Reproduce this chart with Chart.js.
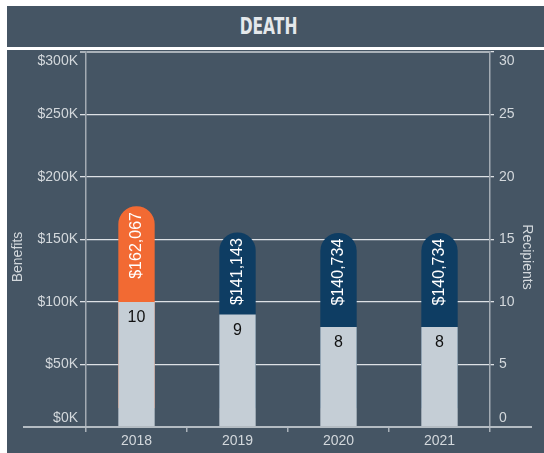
<!DOCTYPE html>
<html>
<head>
<meta charset="utf-8">
<script src="https://cdn.jsdelivr.net/npm/chart.js@4/dist/chart.umd.min.js"></script>
<style>
  body { margin: 0; background: #fff; width: 544px; height: 453px; position: relative; overflow: hidden; }
  #head {
    position: absolute; left: 7px; top: 6px; width: 537px; height: 41px;
    background: #455564; text-align: center; line-height: 41px;
  }
  #head span {
    display: inline-block; margin-right: 14px;
    font-family: "DejaVu Sans Condensed", "DejaVu Sans", sans-serif; font-weight: bold;
    font-size: 23px; color: #e4e8eb; transform: scaleX(0.75);
  }
  #panel { position: absolute; left: 7px; top: 50px; width: 537px; height: 403px; background: #455564; }
</style>
</head>
<body>
<div id="head"><span>DEATH</span></div>
<div id="panel"><canvas id="grafica"></canvas></div>
<script>
const years = ["2018", "2019", "2020", "2021"];
const benefits = [162067, 141143, 140734, 140734];
const recipients = [10, 9, 8, 8];
const benefitColors = ["#f26a33", "#0e3d63", "#0e3d63", "#0e3d63"];
const benefitTicks = [0, 50000, 100000, 150000, 200000, 250000, 300000];
const recipientTicks = [0, 5, 10, 15, 20, 25, 30];

const txt = "#d3d8dc";
const font = { family: "'Liberation Sans', Arial, sans-serif", size: 14, lineHeight: 1.3 };

// labels at the ends of an axis sit inside the plot, like the original
function edgeLabel(label, value, min, max) {
    if (value === max) return ["", label];
    if (value === min) return [label, ""];
    return label;
}

// the round cap sticks out half a bar width above the value
const capShift = {
    id: "capShift",
    beforeDatasetDraw(chart, args) {
        if (args.index !== 0) return;
        chart.ctx.save();
        chart.ctx.translate(0, -args.meta.data[0].width / 2);
    },
    afterDatasetDraw(chart, args) {
        if (args.index !== 0) return;
        chart.ctx.restore();
    }
};

const barLabels = {
    id: "barLabels",
    afterDatasetsDraw(chart) {
        const ctx = chart.ctx;
        const area = chart.chartArea;
        ctx.save();
        ctx.textAlign = "center";
        ctx.textBaseline = "middle";
        ctx.font = "16px 'Liberation Sans', Arial, sans-serif";
        chart.getDatasetMeta(0).data.forEach((bar, i) => {
            ctx.save();
            ctx.translate(bar.x, bar.y + 21);
            ctx.rotate(-Math.PI / 2);
            ctx.fillStyle = "#ffffff";
            ctx.fillText("$" + benefits[i].toLocaleString("en-US"), 0, 0);
            ctx.restore();
        });
        ctx.fillStyle = "#111111";
        chart.getDatasetMeta(1).data.forEach((bar, i) => {
            ctx.fillText(String(recipients[i]), bar.x, bar.y + 16);
        });
        // base line runs past both axes
        ctx.strokeStyle = "#b4bcc3";
        ctx.lineWidth = 2;
        ctx.beginPath();
        ctx.moveTo(area.left - 63, area.bottom);
        ctx.lineTo(area.right + 42, area.bottom);
        ctx.stroke();
        ctx.restore();
    }
};

let ctx = document.getElementById("grafica").getContext("2d");
new Chart(ctx, {
    type: "bar",
    data: {
        labels: years,
        datasets: [{
            label: "Benefits",
            data: benefits,
            yAxisID: "y",
            backgroundColor: benefitColors,
            borderRadius: { topLeft: 18, topRight: 18, bottomLeft: 0, bottomRight: 0 },
            borderSkipped: false,
            grouped: false,
            order: 1,
            barPercentage: 0.36,
            categoryPercentage: 1
        }, {
            label: "Recipients",
            data: recipients,
            yAxisID: "y1",
            backgroundColor: "#c5ced6",
            grouped: false,
            order: 0,
            barPercentage: 0.36,
            categoryPercentage: 1
        }]
    },
    options: {
        responsive: true,
        maintainAspectRatio: false,
        animation: false,
        layout: { padding: { top: 2, left: 0, right: 0, bottom: 0 } },
        plugins: { legend: { display: false }, tooltip: { enabled: false } },
        scales: {
            x: {
                offset: true,
                grid: { drawOnChartArea: false, offset: true, tickLength: 5, color: "#aab2b9", lineWidth: 1.5 },
                border: { display: false },
                ticks: { color: txt, font: font, padding: 0 },
                afterFit(s) { s.height = 26; }
            },
            y: {
                position: "left",
                min: 0,
                max: 300000,
                afterBuildTicks(s) { s.ticks = benefitTicks.map(v => ({ value: v })); },
                ticks: {
                    color: txt, font: font, padding: 2, autoSkip: false,
                    callback: v => edgeLabel("$" + v / 1000 + "K", v, 0, 300000)
                },
                grid: {
                    tickLength: 6,
                    color: c => c.tick && c.tick.value === 300000 ? "#aab2b9" : "#dde1e5",
                    lineWidth: c => c.tick && c.tick.value === 300000 ? 2 : 1.3
                },
                border: { color: "#a3abb3", width: 1.5 },
                // trailing spaces nudge the centred title a little lower, as in the original
                title: { display: true, text: "Benefits         ", color: txt, font: { family: font.family, size: 14 }, padding: { top: 3 } },
                afterFit(s) { s.width = 79; s.paddingTop = 0; s.paddingBottom = 0; }
            },
            y1: {
                position: "right",
                min: 0,
                max: 30,
                afterBuildTicks(s) { s.ticks = recipientTicks.map(v => ({ value: v })); },
                ticks: {
                    color: txt, font: font, padding: 5, autoSkip: false,
                    callback: v => edgeLabel(String(v), v, 0, 30)
                },
                grid: { drawOnChartArea: false, tickLength: 4, color: "#dde1e5", lineWidth: 1.3 },
                border: { color: "#a3abb3", width: 1.5 },
                title: { display: true, text: "         Recipients", color: txt, font: { family: font.family, size: 14 }, padding: { top: 9 } },
                afterFit(s) { s.width = 54; s.paddingTop = 0; s.paddingBottom = 0; }
            }
        }
    },
    plugins: [capShift, barLabels]
});
</script>
</body>
</html>
